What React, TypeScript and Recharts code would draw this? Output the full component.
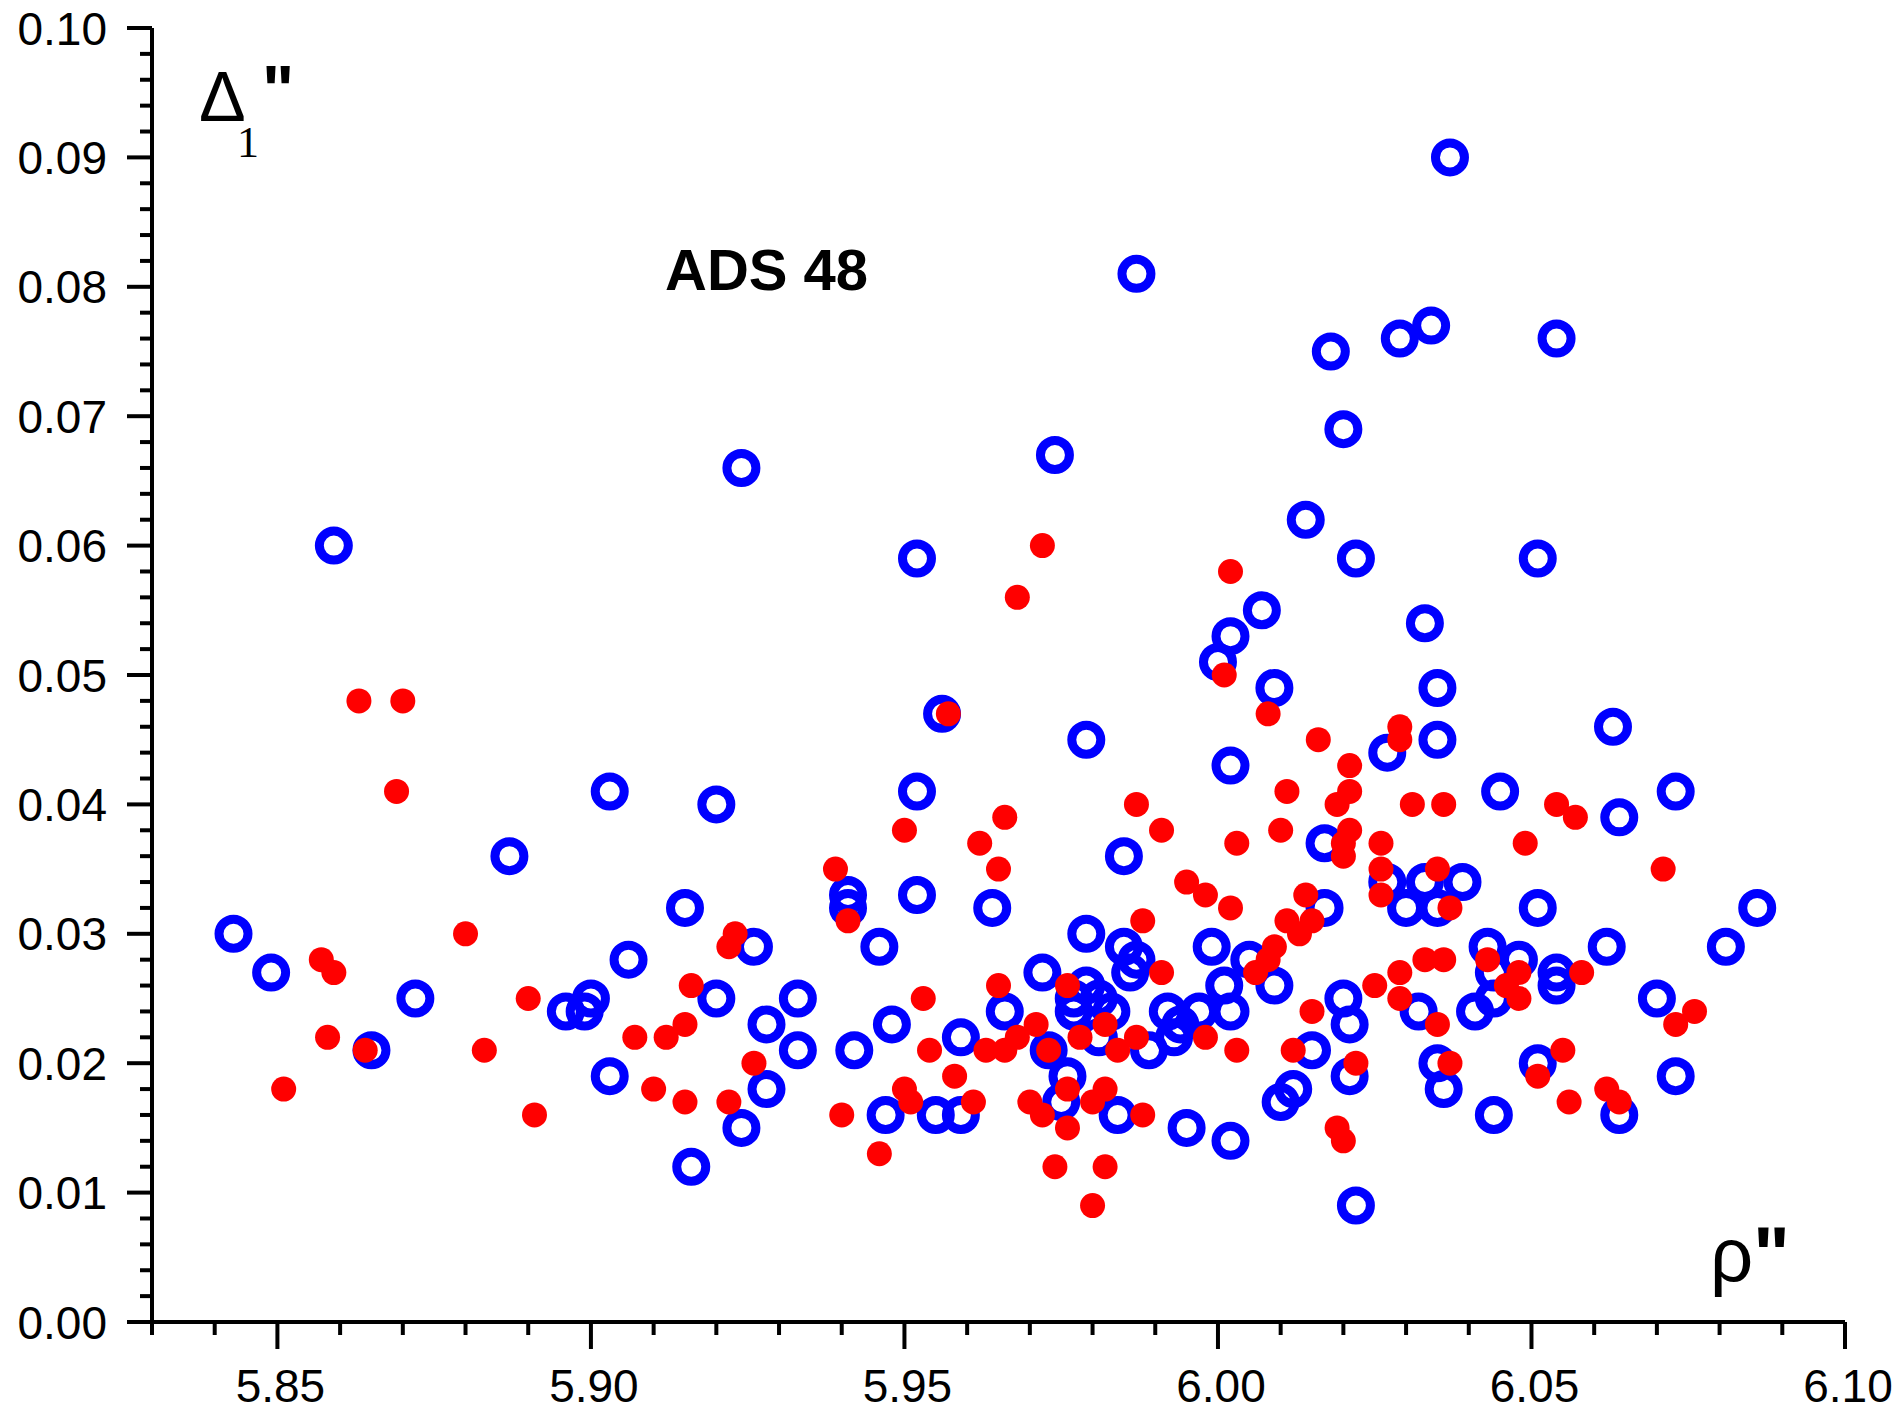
import { Scatter, ScatterChart, XAxis, YAxis } from "recharts"

// [rho, delta1] pairs
const openCircles: [number, number][] = [
  [6.037, 0.09], [5.987, 0.081], [6.034, 0.077], [6.029, 0.076], [6.054, 0.076],
  [6.018, 0.075], [6.02, 0.069], [5.974, 0.067], [5.924, 0.066], [6.014, 0.062],
  [5.859, 0.06], [5.952, 0.059], [6.022, 0.059], [6.051, 0.059], [6.007, 0.055],
  [6.033, 0.054], [6.002, 0.053], [6.0, 0.051], [6.009, 0.049], [6.035, 0.049],
  [5.956, 0.047], [5.979, 0.045], [6.035, 0.045], [6.027, 0.044], [6.063, 0.046],
  [6.002, 0.043], [6.045, 0.041], [6.073, 0.041], [5.903, 0.041], [5.92, 0.04],
  [5.952, 0.041], [6.064, 0.039], [5.887, 0.036], [5.985, 0.036], [6.017, 0.037],
  [6.027, 0.034], [6.033, 0.034], [6.039, 0.034],
  [5.941, 0.033], [5.941, 0.032], [5.952, 0.033], [5.915, 0.032], [5.964, 0.032],
  [6.017, 0.032], [6.03, 0.032], [6.035, 0.032], [6.051, 0.032], [6.086, 0.032],
  [5.843, 0.03], [5.849, 0.027], [5.865, 0.021], [5.872, 0.025], [5.896, 0.024],
  [5.899, 0.024], [5.9, 0.025], [5.903, 0.019], [5.906, 0.028], [5.92, 0.025],
  [5.924, 0.015], [5.926, 0.029], [5.928, 0.023], [5.928, 0.018], [5.916, 0.012],
  [5.933, 0.025], [5.933, 0.021], [5.942, 0.021], [5.946, 0.029], [5.948, 0.023],
  [5.947, 0.016], [5.955, 0.016], [5.959, 0.016], [5.959, 0.022], [5.966, 0.024],
  [5.972, 0.027], [5.973, 0.021], [5.975, 0.017], [5.976, 0.019], [5.979, 0.03],
  [5.979, 0.026], [5.977, 0.025], [5.977, 0.024], [5.981, 0.025], [5.983, 0.024],
  [5.981, 0.022], [5.984, 0.016], [5.985, 0.029], [5.987, 0.028], [5.986, 0.027],
  [5.989, 0.021], [5.992, 0.024], [5.993, 0.022], [5.994, 0.023], [5.997, 0.024],
  [5.995, 0.015], [5.999, 0.029], [6.001, 0.026], [6.002, 0.024], [6.002, 0.014],
  [6.005, 0.028], [6.009, 0.026], [6.01, 0.017], [6.012, 0.018], [6.015, 0.021],
  [6.02, 0.025], [6.021, 0.023], [6.021, 0.019], [6.022, 0.009], [6.032, 0.024],
  [6.035, 0.02], [6.036, 0.018], [6.041, 0.024], [6.043, 0.029], [6.044, 0.027],
  [6.044, 0.025], [6.044, 0.016], [6.048, 0.028], [6.051, 0.02], [6.054, 0.027],
  [6.054, 0.026], [6.062, 0.029], [6.064, 0.016], [6.07, 0.025], [6.073, 0.019],
  [6.081, 0.029],
]

const filledDots: [number, number][] = [
  [5.863, 0.048], [5.87, 0.048], [5.869, 0.041], [5.857, 0.028], [5.859, 0.027],
  [5.858, 0.022], [5.864, 0.021], [5.851, 0.018], [5.88, 0.03], [5.89, 0.025],
  [5.883, 0.021], [5.891, 0.016], [5.907, 0.022], [5.912, 0.022], [5.915, 0.023],
  [5.91, 0.018], [5.915, 0.017], [5.916, 0.026], [5.923, 0.03], [5.922, 0.029],
  [5.926, 0.02], [5.922, 0.017], [5.939, 0.035], [5.941, 0.031], [5.94, 0.016],
  [5.95, 0.038], [5.953, 0.025], [5.954, 0.021], [5.95, 0.018], [5.951, 0.017],
  [5.946, 0.013], [5.958, 0.019], [5.961, 0.017], [5.957, 0.047], [5.962, 0.037],
  [5.966, 0.039], [5.965, 0.035], [5.965, 0.026], [5.963, 0.021], [5.966, 0.021],
  [5.968, 0.022], [5.971, 0.023], [5.97, 0.017], [5.972, 0.016], [5.973, 0.021],
  [5.976, 0.026], [5.978, 0.022], [5.976, 0.018], [5.976, 0.015], [5.974, 0.012],
  [5.972, 0.06], [5.968, 0.056], [5.98, 0.017], [5.982, 0.018], [5.982, 0.023],
  [5.984, 0.021], [5.982, 0.012], [5.98, 0.009], [5.987, 0.022], [5.988, 0.031],
  [5.988, 0.016], [5.987, 0.04], [5.991, 0.038], [5.991, 0.027], [5.995, 0.034],
  [5.998, 0.033], [5.998, 0.022], [6.002, 0.032], [6.003, 0.021], [6.003, 0.037],
  [6.002, 0.058], [6.001, 0.05], [6.008, 0.047], [6.016, 0.045], [6.029, 0.046],
  [6.029, 0.045], [6.021, 0.043], [6.011, 0.041], [6.021, 0.041], [6.019, 0.04],
  [6.031, 0.04], [6.036, 0.04], [6.054, 0.04], [6.057, 0.039], [6.01, 0.038],
  [6.021, 0.038], [6.02, 0.037], [6.02, 0.036], [6.026, 0.037], [6.049, 0.037],
  [6.071, 0.035], [6.026, 0.035], [6.035, 0.035], [6.026, 0.033], [6.014, 0.033],
  [6.037, 0.032], [6.011, 0.031], [6.015, 0.031], [6.013, 0.03], [6.009, 0.029],
  [6.008, 0.028], [6.006, 0.027], [6.025, 0.026], [6.029, 0.027], [6.029, 0.025],
  [6.033, 0.028], [6.036, 0.028], [6.035, 0.023], [6.015, 0.024], [6.012, 0.021],
  [6.022, 0.02], [6.019, 0.015], [6.02, 0.014], [6.037, 0.02], [6.043, 0.028],
  [6.046, 0.026], [6.048, 0.027], [6.048, 0.025], [6.058, 0.027], [6.055, 0.021],
  [6.051, 0.019], [6.056, 0.017], [6.062, 0.018], [6.064, 0.017], [6.073, 0.023],
  [6.076, 0.024],
]

const xTicks = [
  5.83, 5.84, 5.85, 5.86, 5.87, 5.88, 5.89, 5.9, 5.91, 5.92, 5.93, 5.94, 5.95, 5.96,
  5.97, 5.98, 5.99, 6.0, 6.01, 6.02, 6.03, 6.04, 6.05, 6.06, 6.07, 6.08, 6.09, 6.1,
]
// minor ticks every 0.002, labelled every 0.01
const yTicks = Array.from({ length: 51 }, (_, i) => Math.round(i * 2) / 1000)

const circleData = openCircles.map(([x, y]) => ({ x, y }))
const dotData = filledDots.map(([x, y]) => ({ x, y }))

const FONT = "'Liberation Sans', Arial, sans-serif"

function XTick(props: any) {
  const { x, y, payload } = props
  const major = Math.round(payload.value * 100) % 5 === 0
  return (
    <g>
      <line x1={x} x2={x} y1={y} y2={y + (major ? 27 : 13)} stroke="#000" strokeWidth={4} />
      {major && (
        <text x={x + 3} y={y + 80} textAnchor="middle" fontFamily={FONT} fontSize={46} fill="#000">
          {payload.value.toFixed(2)}
        </text>
      )}
    </g>
  )
}

function YTick(props: any) {
  const { x, y, payload } = props
  const major = Math.round(payload.value * 1000) % 10 === 0
  return (
    <g>
      <line x1={x - (major ? 25 : 12)} x2={x} y1={y} y2={y} stroke="#000" strokeWidth={4} />
      {major && (
        <text x={x - 45} y={y} dy="0.36em" textAnchor="end" fontFamily={FONT} fontSize={46} fill="#000">
          {payload.value.toFixed(2)}
        </text>
      )}
    </g>
  )
}

const Ring = (props: any) => (
  <circle cx={props.cx} cy={props.cy} r={14.5} fill="none" stroke="#0000FF" strokeWidth={9} />
)

const Dot = (props: any) => <circle cx={props.cx} cy={props.cy} r={12.5} fill="#FF0000" />

export default function App() {
  return (
    <div style={{ position: "absolute", left: 0, top: 0, width: 1897, height: 1411, background: "#fff", overflow: "hidden" }}>
      <ScatterChart width={1897} height={1411} margin={{ top: 28, right: 52, bottom: 0, left: 0 }}>
        <XAxis
          type="number"
          dataKey="x"
          domain={[5.83, 6.1]}
          ticks={xTicks}
          interval={0}
          height={89}
          tickSize={0}
          tickMargin={0}
          tickLine={false}
          tick={<XTick />}
          axisLine={{ stroke: "#000", strokeWidth: 4 }}
          allowDataOverflow
        />
        <YAxis
          type="number"
          dataKey="y"
          domain={[0, 0.1]}
          ticks={yTicks}
          interval={0}
          width={152}
          tickSize={0}
          tickMargin={0}
          tickLine={false}
          tick={<YTick />}
          axisLine={{ stroke: "#000", strokeWidth: 4 }}
          allowDataOverflow
        />
        <Scatter data={circleData} shape={Ring} isAnimationActive={false} />
        <Scatter data={dotData} shape={Dot} isAnimationActive={false} />
      </ScatterChart>
      <svg
        width={1897}
        height={1411}
        style={{ position: "absolute", left: 0, top: 0, pointerEvents: "none" }}
      >
        <text x={665} y={290} fontFamily={FONT} fontWeight="bold" fontSize={58} fill="#000">
          ADS 48
        </text>
        <text x={199} y={121} fontFamily={FONT} fontSize={70} fill="#000">
          Δ
        </text>
        <text x={262} y={113} fontFamily={FONT} fontWeight="bold" fontSize={68} fill="#000">
          {'"'}
        </text>
        <text x={237} y={157} fontFamily="'Liberation Serif', serif" fontSize={44} fill="#000">
          1
        </text>
        <text x={1710} y={1281} fontFamily={FONT} fontSize={76} fill="#000">
          ρ
        </text>
        <text x={1753} y={1281} fontFamily={FONT} fontWeight="bold" fontSize={78} fill="#000">
          {'"'}
        </text>
      </svg>
    </div>
  )
}
